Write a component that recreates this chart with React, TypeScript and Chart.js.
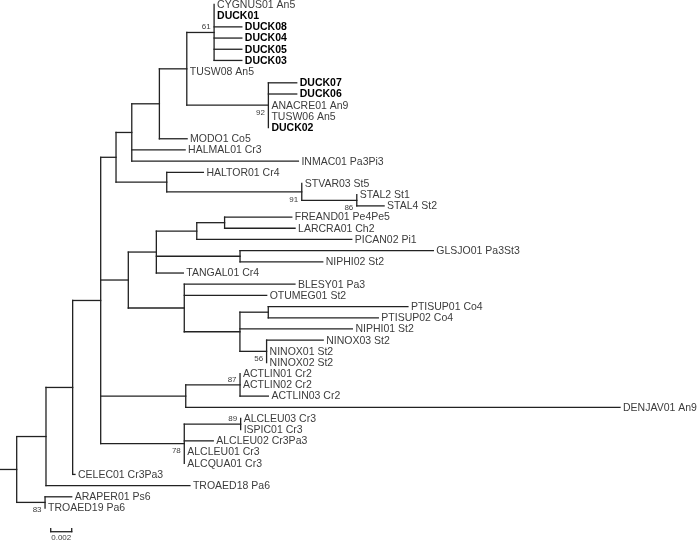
import React, { useEffect, useRef } from "react";
import { Chart, registerables } from "chart.js";

Chart.register(...registerables);

// ---------------- DATA ----------------
// Leaves, top to bottom
const leafNames = [
  "CYGNUS01 An5", "DUCK01", "DUCK08", "DUCK04", "DUCK05", "DUCK03", "TUSW08 An5",
  "DUCK07", "DUCK06", "ANACRE01 An9", "TUSW06 An5", "DUCK02", "MODO1 Co5",
  "HALMAL01 Cr3", "INMAC01 Pa3Pi3", "HALTOR01 Cr4", "STVAR03 St5", "STAL2 St1",
  "STAL4 St2", "FREAND01 Pe4Pe5", "LARCRA01 Ch2", "PICAN02 Pi1", "GLSJO01 Pa3St3",
  "NIPHI02 St2", "TANGAL01 Cr4", "BLESY01 Pa3", "OTUMEG01 St2", "PTISUP01 Co4",
  "PTISUP02 Co4", "NIPHI01 St2", "NINOX03 St2", "NINOX01 St2", "NINOX02 St2",
  "ACTLIN01 Cr2", "ACTLIN02 Cr2", "ACTLIN03 Cr2", "DENJAV01 An9", "ALCLEU03 Cr3",
  "ISPIC01 Cr3", "ALCLEU02 Cr3Pa3", "ALCLEU01 Cr3", "ALCQUA01 Cr3", "CELEC01 Cr3Pa3",
  "TROAED18 Pa6", "ARAPER01 Ps6", "TROAED19 Pa6",
];
const leafParents = [
  "N12", "N12", "N12", "N12", "N12", "N12", "N11",
  "N13", "N13", "N13", "N13", "N13", "N10",
  "N8", "N8", "N9", "N14", "N15",
  "N15", "N17", "N17", "N16", "N19",
  "N19", "N18", "N20", "N20", "N22",
  "N22", "N21", "N23", "N23", "N23",
  "N24", "N24", "N24", "N6", "N25",
  "N25", "N7", "N7", "N7", "N2",
  "N1", "L", "L",
];
const leafBranchLengths = [
  0, 0, 0.00264, 0.00264, 0.00264, 0.00264, 0,
  0.0027, 0.0027, 0, 0, 0, 0.00264,
  0.00508, 0.01587, 0.00349, 0, 0,
  0.0026, 0.0064, 0.00671, 0.01476, 0.01841,
  0.00788, 0.00257, 0.01054, 0.00785, 0.0133,
  0.01048, 0.01071, 0.00539, 0, 0,
  0, 0, 0.0027, 0.04136, 0,
  0, 0.00276, 0, 0, 0.00022,
  0.01371, 0.00254, 0,
];

// Internal nodes (parents listed before children)
const nodeIds = [
  "R", "L", "N1", "N2", "N3", "N4", "N8", "N10", "N11", "N12", "N13", "N9", "N14",
  "N15", "N5", "N18", "N16", "N17", "N19", "N20", "N21", "N22", "N23", "N6", "N24",
  "N7", "N25",
];
const nodeParents = [
  null, "R", "R", "N1", "N2", "N3", "N4", "N8", "N10", "N11", "N11", "N4", "N9",
  "N14", "N3", "N5", "N18", "N16", "N18", "N5", "N20", "N21", "N21", "N3", "N6",
  "N3", "N7",
];
const nodeBranchLengths = [
  0.00159, 0.0027, 0.00279, 0.00254, 0.00267, 0.00146, 0.0015, 0.00263, 0.00261,
  0.0026, 0.00777, 0.00483, 0.01286, 0.00524, 0.00263, 0.00267, 0.00385, 0.00265,
  0.00797, 0.00533, 0.0053, 0.0027, 0.00254, 0.0081, 0.00517, 0.00796, 0.00537,
];

// Bootstrap support
const bootstrapNodes = ["N12", "N13", "N14", "N15", "N23", "N24", "N25", "N7", "L"];
const bootstrapValues = [61, 92, 91, 86, 56, 87, 89, 78, 83];

// Scale bar
const scaleBarLength = 0.002;
const scaleBarLabel = "0.002";

// ---------------- LAYOUT / STYLE ----------------
const W = 700;
const H = 541;
const X_MAX = W / 10500;
const Y_MIN = -0.402;
const Y_MAX = 47.95;
const SCALE_BAR_X = 0.00483;
const SCALE_BAR_Y = 47.12;
const bootstrapSide = ["above", "below", "below", "below", "below", "above", "above", "below", "below"];
const LINE_COLOR = "#222222";
const TEXT_COLOR = "#3c3c3c";
const FONT_FAMILY = "'Liberation Sans', Arial, sans-serif";

function buildTree() {
  const depth: Record<string, number> = {};
  nodeIds.forEach((id, i) => {
    const p = nodeParents[i];
    depth[id] = (p ? depth[p] : 0) + nodeBranchLengths[i];
  });
  const leafDepth = leafNames.map((_, i) => depth[leafParents[i]] + leafBranchLengths[i]);
  const childYs: Record<string, number[]> = {};
  nodeIds.forEach((id) => (childYs[id] = []));
  leafParents.forEach((p, i) => childYs[p].push(i));
  const nodeY: Record<string, number> = {};
  const nodeRange: Record<string, [number, number]> = {};
  for (let k = nodeIds.length - 1; k >= 0; k--) {
    const id = nodeIds[k];
    const ys = childYs[id];
    const lo = Math.min(...ys);
    const hi = Math.max(...ys);
    nodeRange[id] = [lo, hi];
    nodeY[id] = (lo + hi) / 2;
    const p = nodeParents[k];
    if (p) childYs[p].push(nodeY[id]);
  }
  return { depth, leafDepth, nodeY, nodeRange };
}

export default function App() {
  const ref = useRef<HTMLCanvasElement | null>(null);

  useEffect(() => {
    if (!ref.current) return;
    const { depth, leafDepth, nodeY, nodeRange } = buildTree();

    const segs: { x: number; y: number }[][] = [];
    nodeIds.forEach((id, i) => {
      const p = nodeParents[i];
      const px = p ? depth[p] : 0;
      segs.push([{ x: px, y: nodeY[id] }, { x: depth[id], y: nodeY[id] }]);
      const [lo, hi] = nodeRange[id];
      segs.push([{ x: depth[id], y: lo }, { x: depth[id], y: hi }]);
    });
    leafNames.forEach((_, i) => {
      if (leafBranchLengths[i] > 0) {
        const px = depth[leafParents[i]];
        segs.push([{ x: px, y: i }, { x: leafDepth[i], y: i }]);
      }
    });
    // scale bar
    const sx0 = SCALE_BAR_X;
    const sx1 = SCALE_BAR_X + scaleBarLength;
    segs.push([{ x: sx0, y: SCALE_BAR_Y }, { x: sx1, y: SCALE_BAR_Y }]);
    segs.push([{ x: sx0, y: SCALE_BAR_Y - 0.28 }, { x: sx0, y: SCALE_BAR_Y }]);
    segs.push([{ x: sx1, y: SCALE_BAR_Y - 0.28 }, { x: sx1, y: SCALE_BAR_Y }]);

    const datasets = segs.map((s) => ({
      data: s,
      showLine: true,
      borderColor: LINE_COLOR,
      borderWidth: 1.3,
      pointRadius: 0,
      borderCapStyle: "square" as const,
      fill: false,
    }));

    const textPlugin = {
      id: "treeText",
      afterDatasetsDraw(chart: any) {
        const ctx = chart.ctx as CanvasRenderingContext2D;
        const xs = chart.scales.x;
        const ys = chart.scales.y;
        ctx.save();
        ctx.textBaseline = "middle";
        ctx.textAlign = "left";
        leafNames.forEach((name, i) => {
          const bold = name.startsWith("DUCK");
          ctx.font = (bold ? "bold " : "") + "10.5px " + FONT_FAMILY;
          ctx.fillStyle = bold ? "#000000" : TEXT_COLOR;
          ctx.fillText(name, xs.getPixelForValue(leafDepth[i]) + 3, ys.getPixelForValue(i) + 0.5);
        });
        ctx.font = "8px " + FONT_FAMILY;
        ctx.fillStyle = TEXT_COLOR;
        ctx.textAlign = "right";
        bootstrapNodes.forEach((id, k) => {
          const x = xs.getPixelForValue(depth[id]) - 3.5;
          const y = ys.getPixelForValue(nodeY[id]) + (bootstrapSide[k] === "above" ? -5.5 : 7.5);
          ctx.fillText(String(bootstrapValues[k]), x, y);
        });
        ctx.textAlign = "center";
        ctx.fillText(
          scaleBarLabel,
          xs.getPixelForValue((sx0 + sx1) / 2),
          ys.getPixelForValue(SCALE_BAR_Y) + 6
        );
        ctx.restore();
      },
    };

    const chart = new Chart(ref.current, {
      type: "scatter",
      data: { datasets },
      options: {
        animation: false,
        responsive: false,
        events: [],
        layout: { padding: 0 },
        plugins: { legend: { display: false }, tooltip: { enabled: false } },
        scales: {
          x: { type: "linear", display: false, min: 0, max: X_MAX },
          y: { type: "linear", display: false, reverse: true, min: Y_MIN, max: Y_MAX },
        },
      },
      plugins: [textPlugin],
    });
    return () => chart.destroy();
  }, []);

  return (
    <div style={{ position: "absolute", left: 0, top: 0, width: W, height: H, background: "#fff" }}>
      <canvas ref={ref} width={W} height={H} style={{ width: W, height: H, display: "block" }} />
    </div>
  );
}
